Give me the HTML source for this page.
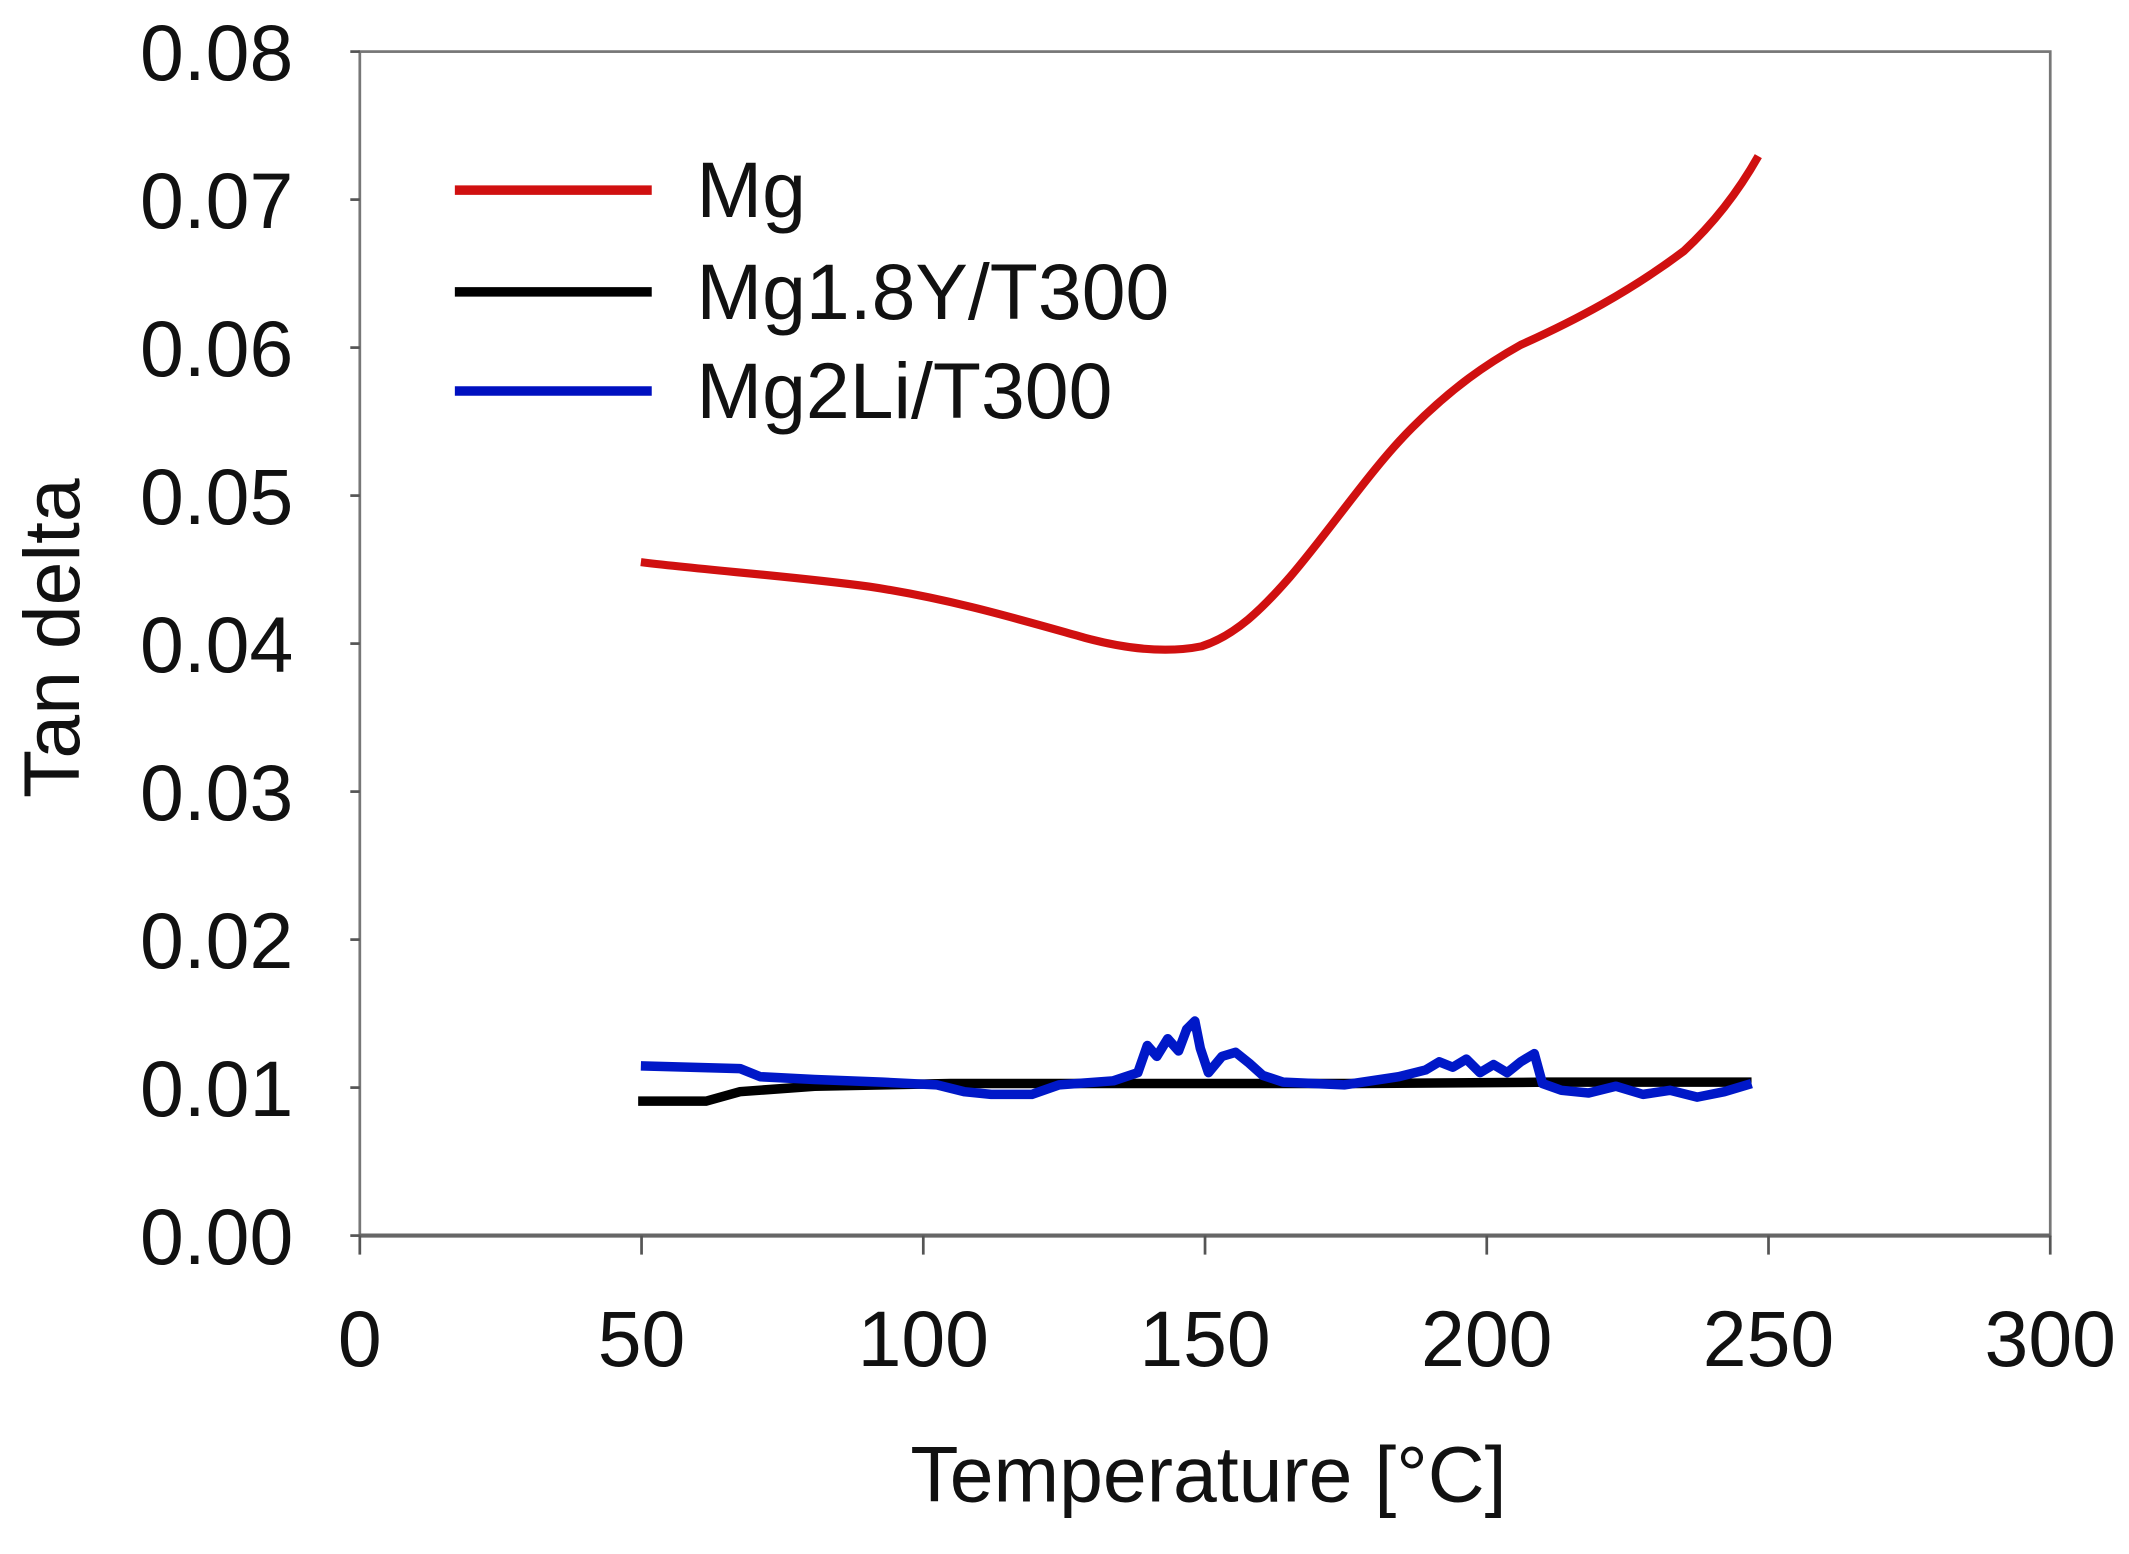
<!DOCTYPE html>
<html><head><style>
html,body{margin:0;padding:0;background:#fff;}
svg{display:block;}
text{font-family:"Liberation Sans",Arial,sans-serif;fill:#111;}
</style></head><body>
<svg width="2129" height="1554" viewBox="0 0 1568 1144.5" preserveAspectRatio="none" xmlns="http://www.w3.org/2000/svg">
<rect x="0" y="0" width="1568" height="1144.5" fill="#fff"/>
<!-- frame -->
<rect x="265" y="38" width="1245" height="872" fill="none" stroke="#777" stroke-width="2"/>
<line x1="265" y1="910" x2="1510" y2="910" stroke="#666" stroke-width="3"/>
<!-- y ticks -->
<g stroke="#555" stroke-width="2">
<line x1="258" y1="38" x2="265" y2="38"/><line x1="258" y1="147" x2="265" y2="147"/>
<line x1="258" y1="256" x2="265" y2="256"/><line x1="258" y1="365" x2="265" y2="365"/>
<line x1="258" y1="474" x2="265" y2="474"/><line x1="258" y1="583" x2="265" y2="583"/>
<line x1="258" y1="692" x2="265" y2="692"/><line x1="258" y1="801" x2="265" y2="801"/>
<line x1="258" y1="910" x2="265" y2="910"/>
<line x1="265" y1="910" x2="265" y2="924"/><line x1="472.5" y1="910" x2="472.5" y2="924"/>
<line x1="680" y1="910" x2="680" y2="924"/><line x1="887.5" y1="910" x2="887.5" y2="924"/>
<line x1="1095" y1="910" x2="1095" y2="924"/><line x1="1302.5" y1="910" x2="1302.5" y2="924"/>
<line x1="1510" y1="910" x2="1510" y2="924"/>
</g>
<g font-size="58" text-anchor="end">
<text x="216" y="59">0.08</text><text x="216" y="168">0.07</text>
<text x="216" y="277">0.06</text><text x="216" y="386">0.05</text>
<text x="216" y="495">0.04</text><text x="216" y="604">0.03</text>
<text x="216" y="713">0.02</text><text x="216" y="822">0.01</text>
<text x="216" y="931">0.00</text>
</g>
<g font-size="58" text-anchor="middle">
<text x="265" y="1006">0</text><text x="472.5" y="1006">50</text>
<text x="680" y="1006">100</text><text x="887.5" y="1006">150</text>
<text x="1095" y="1006">200</text><text x="1302.5" y="1006">250</text>
<text x="1510" y="1006">300</text>
<text x="890" y="1106">Temperature [°C]</text>
<text transform="translate(58,470) rotate(-90)">Tan delta</text>
</g>
<!-- legend -->
<line x1="335" y1="140" x2="480" y2="140" stroke="#d01010" stroke-width="7"/>
<line x1="335" y1="215" x2="480" y2="215" stroke="#000" stroke-width="7"/>
<line x1="335" y1="288" x2="480" y2="288" stroke="#0010c0" stroke-width="7"/>
<g font-size="58">
<text x="513" y="160">Mg</text><text x="513" y="235">Mg1.8Y/T300</text><text x="513" y="308">Mg2Li/T300</text>
</g>
<!-- series -->
<path d="M472,414 C520,420 580,424 640,432 C700,441 750,456 800,470 C830,478 860,481 885,476 C910,468 930,448 950,425 C980,390 1010,345 1040,315 C1070,285 1095,268 1120,254 C1160,236 1200,215 1240,185 C1265,162 1282,138 1295,115" fill="none" stroke="#d01010" stroke-width="6"/>
<path d="M470,811 L520,811 L545,804 L600,800 L700,798 L900,798 L1000,798 L1140,797 L1290,797" fill="none" stroke="#000" stroke-width="7"/>
<path d="M472,785 L545,787 L560,793 L600,795 L650,797 L690,799 L710,804 L730,806 L760,806 L780,799 L820,796 L838,790 L845,770 L852,778 L860,765 L868,774 L874,758 L880,752 L884,772 L890,790 L900,778 L910,775 L920,783 L930,792 L945,797 L990,799 L1030,793 L1050,788 L1060,782 L1070,786 L1080,780 L1090,790 L1100,784 L1110,790 L1120,782 L1130,776 L1136,798 L1150,803 L1170,805 L1190,800 L1210,806 L1230,803 L1250,808 L1270,804 L1290,798" fill="none" stroke="#0018c8" stroke-width="7" stroke-linejoin="round"/>
</svg>
</body></html>
